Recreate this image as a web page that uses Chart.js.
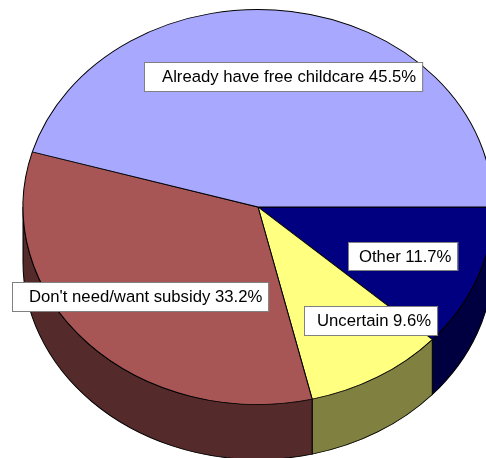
<!DOCTYPE html>
<html>
<head>
<meta charset="utf-8">
<title>Childcare subsidy</title>
<script src="https://cdn.jsdelivr.net/npm/chart.js@4/dist/chart.umd.min.js"></script>
<style>
  html, body { margin: 0; padding: 0; background: #fff; overflow: hidden; }
  #pie { display: block; }
</style>
</head>
<body>
<canvas id="pie" width="486" height="458"></canvas>
<script>
// slices listed clockwise, starting at 3 o'clock
const categories = ['Other', 'Uncertain', "Don't need/want subsidy", 'Already have free childcare'];
const shares = [11.7, 9.6, 33.2, 45.5];

const topColors = ['#000080', '#FFFF80', '#A85555', '#A8A8FF'];
const sideColors = ['#000040', '#808040', '#552A2A', '#54547F'];

// where the tilted disc sits on the page
const disc = { cx: 258, cy: 207, rx: 235, ry: 197.5, depth: 55 };

// label boxes: left/top of the box and where the text starts
const labelBoxes = [
  { x: 348, y: 242, h: 28, tx: 359 },
  { x: 304, y: 306, h: 29, tx: 317 },
  { x: 12, y: 282, h: 29, tx: 29 },
  { x: 144, y: 62, h: 29, tx: 162 }
];

// squash the round pie into a tilted ellipse
function applyTilt(chart) {
  const el = chart.getDatasetMeta(0).data[0];
  const sx = disc.rx / el.outerRadius;
  const sy = disc.ry / el.outerRadius;
  const ctx = chart.ctx;
  ctx.translate(disc.cx, disc.cy);
  ctx.scale(sx, sy);
  ctx.translate(-el.x, -el.y);
  return sy;
}

const tiltPlugin = {
  id: 'tilt3d',
  beforeDatasetsDraw(chart) {
    const ctx = chart.ctx;
    ctx.save();
    const sy = applyTilt(chart);
    const d = disc.depth / sy;
    // outer wall of every slice that faces the viewer
    chart.getDatasetMeta(0).data.forEach((el, i) => {
      const a = Math.max(el.startAngle, 0);
      const b = Math.min(el.endAngle, Math.PI);
      if (b <= a) return;
      const r = el.outerRadius;
      ctx.beginPath();
      ctx.arc(el.x, el.y, r, a, b);
      ctx.lineTo(el.x + r * Math.cos(b), el.y + r * Math.sin(b) + d);
      ctx.arc(el.x, el.y + d, r, b, a, true);
      ctx.closePath();
      ctx.fillStyle = sideColors[i];
      ctx.fill();
      ctx.lineWidth = 1;
      ctx.strokeStyle = '#000';
      ctx.stroke();
    });
  },
  afterDatasetsDraw(chart) {
    const ctx = chart.ctx;
    ctx.restore();
    ctx.save();
    ctx.font = '16.7px "Liberation Sans", Arial, sans-serif';
    ctx.textBaseline = 'middle';
    ctx.textAlign = 'left';
    categories.forEach((name, i) => {
      const text = name + ' ' + shares[i].toFixed(1) + '%';
      const box = labelBoxes[i];
      const w = (box.tx - box.x) + ctx.measureText(text).width + 6;
      ctx.fillStyle = '#fff';
      ctx.fillRect(box.x, box.y, w, box.h);
      ctx.strokeStyle = '#808080';
      ctx.lineWidth = 1;
      ctx.strokeRect(box.x + 0.5, box.y + 0.5, w, box.h);
      ctx.fillStyle = '#000';
      ctx.fillText(text, box.tx, box.y + box.h / 2 + 1);
    });
    ctx.restore();
  }
};

new Chart(document.getElementById('pie'), {
  type: 'pie',
  data: {
    labels: categories,
    datasets: [{
      data: shares,
      backgroundColor: topColors,
      borderColor: '#000',
      borderWidth: 1,
      clip: false
    }]
  },
  options: {
    responsive: false,
    animation: false,
    rotation: 90,
    layout: { padding: 0 },
    plugins: {
      legend: { display: false },
      tooltip: { enabled: false }
    }
  },
  plugins: [tiltPlugin]
});
</script>
</body>
</html>
